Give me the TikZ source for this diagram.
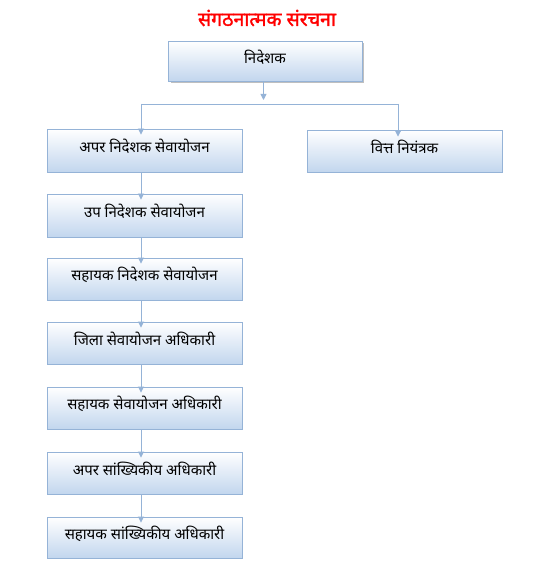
\documentclass[tikz,border=0pt]{standalone}
\usepackage{fontspec}
\setmainfont[Script=Devanagari]{Noto Sans}
\newfontfamily\deva[Script=Devanagari]{Noto Sans}
\newfontfamily\devabold[Script=Devanagari,FakeBold=1.6]{Noto Sans}
\usetikzlibrary{arrows.meta}
\definecolor{boxline}{HTML}{95B3D7}
\definecolor{boxfill}{HTML}{C2D6EE}
\definecolor{titlered}{HTML}{FF0000}
\tikzset{
  orgbox/.style={draw=boxline, line width=0.9pt, top color=white, bottom color=boxfill,
    minimum width=195pt, minimum height=42pt, inner sep=0pt},
  orglabel/.style={font=\deva\fontsize{15}{17}\selectfont, text=black, inner sep=0pt},
  link/.style={draw=boxline, line width=0.9pt},
  arr/.style={link, -{Triangle[length=6pt,width=6pt]}},
}
\begin{document}
\begin{tikzpicture}[x=1pt,y=-1pt]
\useasboundingbox (0,0) rectangle (539,577);
\fill[white] (0,0) rectangle (539,577);
% title
\node[font=\devabold\fontsize{19.5}{22}\selectfont, text=titlered] (title) at (267,18) {संगठनात्मक संरचना};
% top box with shadow
\fill[gray!50] (170.5,43.5) rectangle (364,83.5);
\node[orgbox, minimum width=194pt, minimum height=40pt] (top) at (265,61) {};
\node[orglabel] (toplbl) at (265,57) {निदेशक};
% level 1
\node[orgbox, minimum height=43pt] (b1) at (144.5,150.5) {};
\node[orglabel] (t1) at (144.5,146.5) {अपर निदेशक सेवायोजन};
\node[orgbox] (r) at (404.5,151) {};
\node[orglabel] (tr) at (404.5,147) {वित्त नियंत्रक};
% chain
\node[orgbox, minimum height=43pt] (b2) at (144.5,215.5) {};
\node[orglabel] (t2) at (144.5,211.5) {उप निदेशक सेवायोजन};
\node[orgbox] (b3) at (144.5,279) {};
\node[orglabel] (t3) at (144.5,275) {सहायक निदेशक सेवायोजन};
\node[orgbox] (b4) at (144.5,343) {};
\node[orglabel] (t4) at (144.5,339) {जिला सेवायोजन अधिकारी};
\node[orgbox] (b5) at (144.5,408) {};
\node[orglabel] (t5) at (144.5,404) {सहायक सेवायोजन अधिकारी};
\node[orgbox] (b6) at (144.5,473) {};
\node[orglabel] (t6) at (144.5,469) {अपर सांख्यिकीय अधिकारी};
\node[orgbox, minimum height=41pt] (b7) at (144.5,537.5) {};
\node[orglabel] (t7) at (144.5,533.5) {सहायक सांख्यिकीय अधिकारी};
% connectors
\coordinate (hub) at (263.5,100);
\coordinate (jl) at (141,104);
\coordinate (jr) at (398,104);
\draw[arr] ([xshift=-1.5pt]top.south) -- (hub);
\draw[link] (jl) -- (jr);
\draw[arr] (jl) -- ([xshift=-3.5pt,yshift=-6pt]b1.north);
\draw[arr] (jr) -- ([xshift=-6.5pt,yshift=-7pt]r.north);
\foreach \a/\b in {b1/b2,b2/b3,b3/b4,b4/b5,b5/b6,b6/b7}{
  \draw[arr] ([xshift=-3.5pt]\a.south) -- ([xshift=-3.5pt,yshift=-6pt]\b.north);
}
\end{tikzpicture}
\end{document}
